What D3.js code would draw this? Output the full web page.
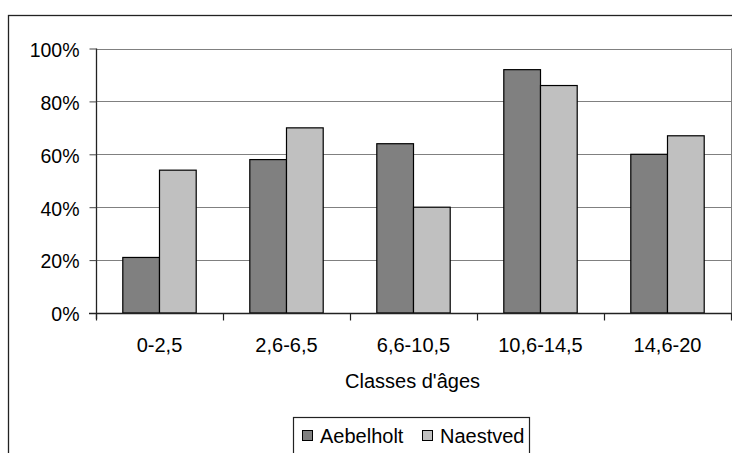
<!DOCTYPE html>
<html>
<head>
<meta charset="utf-8">
<script src="https://cdn.jsdelivr.net/npm/d3@7"></script>
<style>
  html, body { margin: 0; padding: 0; background: #fff; }
  svg { display: block; }
  text { font-family: "Liberation Sans", Arial, sans-serif; fill: #000; }
</style>
</head>
<body>
<svg id="chart" width="732" height="453"></svg>
<script>
const categories = ["0-2,5", "2,6-6,5", "6,6-10,5", "10,6-14,5", "14,6-20"];
const seriesNames = ["Aebelholt", "Naestved"];
const aebelholt = [0.21, 0.58, 0.64, 0.92, 0.60];
const naestved = [0.54, 0.70, 0.40, 0.86, 0.67];
const yTicks = [0, 0.2, 0.4, 0.6, 0.8, 1.0];
const xTitle = "Classes d'âges";

const colors = { "Aebelholt": "#808080", "Naestved": "#c0c0c0" };
const values = { "Aebelholt": aebelholt, "Naestved": naestved };

const svg = d3.select("#chart");

// outer chart border
svg.append("rect")
  .attr("x", 8.5).attr("y", 15.5)
  .attr("width", 800).attr("height", 600)
  .attr("fill", "#fff").attr("stroke", "#222").attr("stroke-width", 1.3);

const pLeft = 96, pRight = 731, pTop = 48.5, pBottom = 313;

const x = d3.scaleBand().domain(categories).range([pLeft, pRight]).padding(0);
const xs = d3.scaleBand().domain(seriesNames).range([0, x.bandwidth()])
  .paddingInner(0).paddingOuter(0.73);
const y = d3.scaleLinear().domain([0, 1]).range([pBottom, pTop]);

// gridlines
svg.append("g").selectAll("line").data(yTicks.filter(d => d > 0)).join("line")
  .attr("x1", pLeft).attr("x2", pRight)
  .attr("y1", d => Math.round(y(d)) + 0.5).attr("y2", d => Math.round(y(d)) + 0.5)
  .attr("stroke", "#808080").attr("stroke-width", 1);

// right plot border
svg.append("line")
  .attr("x1", pRight + 0.5).attr("x2", pRight + 0.5)
  .attr("y1", y(1)).attr("y2", pBottom)
  .attr("stroke", "#808080").attr("stroke-width", 1);

// bars
const groups = svg.append("g").selectAll("g").data(categories).join("g")
  .attr("transform", d => `translate(${x(d)},0)`);
groups.selectAll("rect")
  .data((c, i) => seriesNames.map(s => ({ s, v: values[s][i] })))
  .join("rect")
  .attr("x", d => xs(d.s))
  .attr("width", xs.bandwidth())
  .attr("y", d => y(d.v))
  .attr("height", d => y(0) - y(d.v))
  .attr("fill", d => colors[d.s])
  .attr("stroke", "#000").attr("stroke-width", 1.2);

// y axis
const yAxis = d3.axisLeft(y).tickValues(yTicks).tickFormat(d3.format(".0%"))
  .tickSize(7).tickPadding(10);
const gy = svg.append("g").attr("transform", `translate(${pLeft + 0.5},0)`).call(yAxis);
gy.select(".domain").attr("stroke", "#222").attr("stroke-width", 1.3)
  .attr("d", `M0,${pTop}V${pBottom + 6}`);
gy.selectAll(".tick line").attr("stroke", "#444");
gy.selectAll(".tick text").attr("font-size", 19.5).attr("font-family", '"Liberation Sans", Arial, sans-serif')
  .attr("fill", "#000").attr("dy", "0.4em");

// x axis
const gx = svg.append("g").attr("transform", `translate(0,${Math.round(pBottom) + 0.5})`);
gx.append("line").attr("x1", pLeft - 7).attr("x2", pRight + 1)
  .attr("stroke", "#222").attr("stroke-width", 1.3);
const bounds = categories.map(c => x(c)).concat([x(categories[categories.length - 1]) + x.bandwidth()]);
gx.selectAll("line.tk").data(bounds).join("line").attr("class", "tk")
  .attr("x1", d => d + 0.5).attr("x2", d => d + 0.5).attr("y1", 0).attr("y2", 7)
  .attr("stroke", "#222").attr("stroke-width", 1.2);
gx.selectAll("text").data(categories).join("text")
  .attr("x", d => x(d) + x.bandwidth() / 2)
  .attr("y", 38.5)
  .attr("text-anchor", "middle")
  .attr("font-size", 20)
  .text(d => d);

// x title
svg.append("text")
  .attr("x", (pLeft + pRight) / 2 - 1).attr("y", 388)
  .attr("text-anchor", "middle").attr("font-size", 20)
  .text(xTitle);

// legend
const lg = svg.append("g");
lg.append("rect").attr("x", 293.5).attr("y", 417.5).attr("width", 236).attr("height", 60)
  .attr("fill", "#fff").attr("stroke", "#222").attr("stroke-width", 1.2);
const legendX = [302, 422];
seriesNames.forEach((s, i) => {
  lg.append("rect").attr("x", legendX[i] + 0.5).attr("y", 430.5).attr("width", 10).attr("height", 10)
    .attr("fill", colors[s]).attr("stroke", "#000").attr("stroke-width", 1);
  lg.append("text").attr("x", legendX[i] + 18).attr("y", 443).attr("font-size", 20).text(s);
});
</script>
</body>
</html>
